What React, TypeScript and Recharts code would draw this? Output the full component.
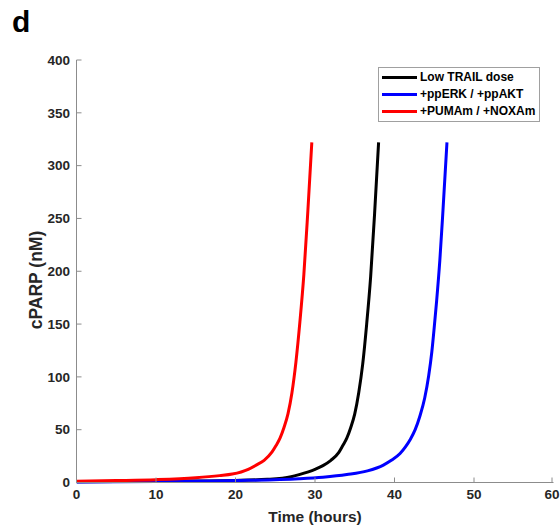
import { LineChart, Line, XAxis, YAxis, Legend } from "recharts";

// cPARP (nM) over time (hours)
const lowTrailTime = [0, 10, 20, 24, 27, 28, 30, 31, 32, 33, 33.5, 34, 34.5, 35, 35.5, 36, 36.5, 37, 37.5, 38];
const lowTrailCparp = [0.8, 1.2, 2, 3, 5.5, 7.5, 12.5, 16, 21, 28.5, 35, 42, 52, 65, 85, 112, 150, 195, 255, 322];

const erkAktTime = [0, 10, 20, 28, 31, 34, 36.6, 38.6, 39.6, 40.7, 41.4, 42, 42.6, 43.2, 43.8, 44.3, 44.7, 45, 45.3, 45.7, 46.1, 46.6];
const erkAktCparp = [0.5, 1, 1.8, 3.5, 5, 7.5, 11, 16.5, 21, 27.5, 34, 41, 50, 63, 80, 101, 124, 147, 172, 210, 258, 322];

const pumaNoxaTime = [0, 5, 10, 15, 18, 19.6, 21.6, 22.6, 23.6, 24.6, 25.1, 25.6, 26.1, 26.6, 27.1, 27.6, 28.1, 28.6, 29.1, 29.6];
const pumaNoxaCparp = [1.1, 1.8, 2.7, 4.5, 6.5, 8, 12.5, 16.5, 21, 29, 35, 42, 52, 65, 85, 114, 152, 197, 257, 322];

const xTicks = [0, 10, 20, 30, 40, 50, 60];
const yTicks = [0, 50, 100, 150, 200, 250, 300, 350, 400];

const toPoints = (time: number[], cparp: number[]) =>
  time.map((t, i) => ({ t, v: cparp[i] }));

const series = [
  { name: "Low TRAIL dose", color: "#000000", data: toPoints(lowTrailTime, lowTrailCparp) },
  { name: "+ppERK / +ppAKT", color: "#0000ff", data: toPoints(erkAktTime, erkAktCparp) },
  { name: "+PUMAm / +NOXAm", color: "#ff0000", data: toPoints(pumaNoxaTime, pumaNoxaCparp) },
];

const FONT = "'Liberation Sans', Arial, sans-serif";
const AXIS = "#8c8c8c";
const LABEL = "#262626";
const GAP_X = 7;
const GAP_Y = 6.5;
const TICK_LEN = 5;

function XTick({ x, y, payload }: any) {
  const axisY = y - GAP_X;
  return (
    <g>
      <line x1={x} x2={x} y1={axisY} y2={axisY - TICK_LEN} stroke={AXIS} />
      <text x={x} y={y} dy="0.71em" textAnchor="middle" fill={LABEL}
        fontSize={13.5} fontWeight="bold" fontFamily={FONT}>
        {payload.value}
      </text>
    </g>
  );
}

function YTick({ x, y, payload }: any) {
  const axisX = x + GAP_Y;
  return (
    <g>
      <line x1={axisX} x2={axisX + TICK_LEN} y1={y} y2={y} stroke={AXIS} />
      <text x={x} y={y} dy="0.35em" textAnchor="end" fill={LABEL}
        fontSize={13.5} fontWeight="bold" fontFamily={FONT}>
        {payload.value}
      </text>
    </g>
  );
}

function LegendBox() {
  return (
    <div style={{
      border: "1px solid #a0a0a0", background: "#fff", padding: "1px 4px 1px 3px",
      fontFamily: FONT, fontWeight: "bold", fontSize: 12, color: "#000",
    }}>
      {series.map((s) => (
        <div key={s.name} style={{ display: "flex", alignItems: "center", height: 17.2 }}>
          <span style={{ display: "inline-block", width: 35, height: 3, background: s.color, marginRight: 3 }} />
          <span style={{ whiteSpace: "nowrap" }}>{s.name}</span>
        </div>
      ))}
    </div>
  );
}

export default function App() {
  return (
    <div style={{ position: "absolute", left: 0, top: 0, width: 560, height: 526, background: "#fff" }}>
      <div style={{
        position: "absolute", left: 12, top: 7, fontFamily: FONT, fontWeight: "bold",
        fontSize: 30, lineHeight: 1, color: "#000",
      }}>
        d
      </div>
      <LineChart width={560} height={526} margin={{ top: 60, right: 6.5, bottom: 13.5, left: 16.5 }}>
        <XAxis
          type="number"
          dataKey="t"
          domain={[0, 60]}
          ticks={xTicks}
          allowDataOverflow
          height={30}
          tickSize={0}
          tickMargin={GAP_X}
          tickLine={false}
          axisLine={{ stroke: AXIS }}
          tick={<XTick />}
          label={{
            content: () => (
              <text x={315} y={517} dy="0.35em" textAnchor="middle" fill={LABEL}
                fontSize={15.5} fontWeight="bold" fontFamily={FONT}>
                Time (hours)
              </text>
            ),
          }}
        />
        <YAxis
          type="number"
          domain={[0, 400]}
          ticks={yTicks}
          width={60}
          tickSize={0}
          tickMargin={GAP_Y}
          tickLine={false}
          axisLine={{ stroke: AXIS }}
          tick={<YTick />}
          label={{
            content: () => (
              <text x={36} y={280} dy="0.35em" textAnchor="middle" fill={LABEL}
                fontSize={17.5} fontWeight="bold" fontFamily={FONT}
                transform="rotate(-90 36 280)">
                cPARP (nM)
              </text>
            ),
          }}
        />
        <Legend
          layout="vertical"
          align="center"
          verticalAlign="middle"
          wrapperStyle={{ left: 378, top: 66.5, width: "auto" }}
          content={<LegendBox />}
        />
        {series.map((s) => (
          <Line
            key={s.name}
            data={s.data}
            dataKey="v"
            name={s.name}
            type="monotone"
            stroke={s.color}
            strokeWidth={3}
            dot={false}
            isAnimationActive={false}
          />
        ))}
      </LineChart>
    </div>
  );
}
